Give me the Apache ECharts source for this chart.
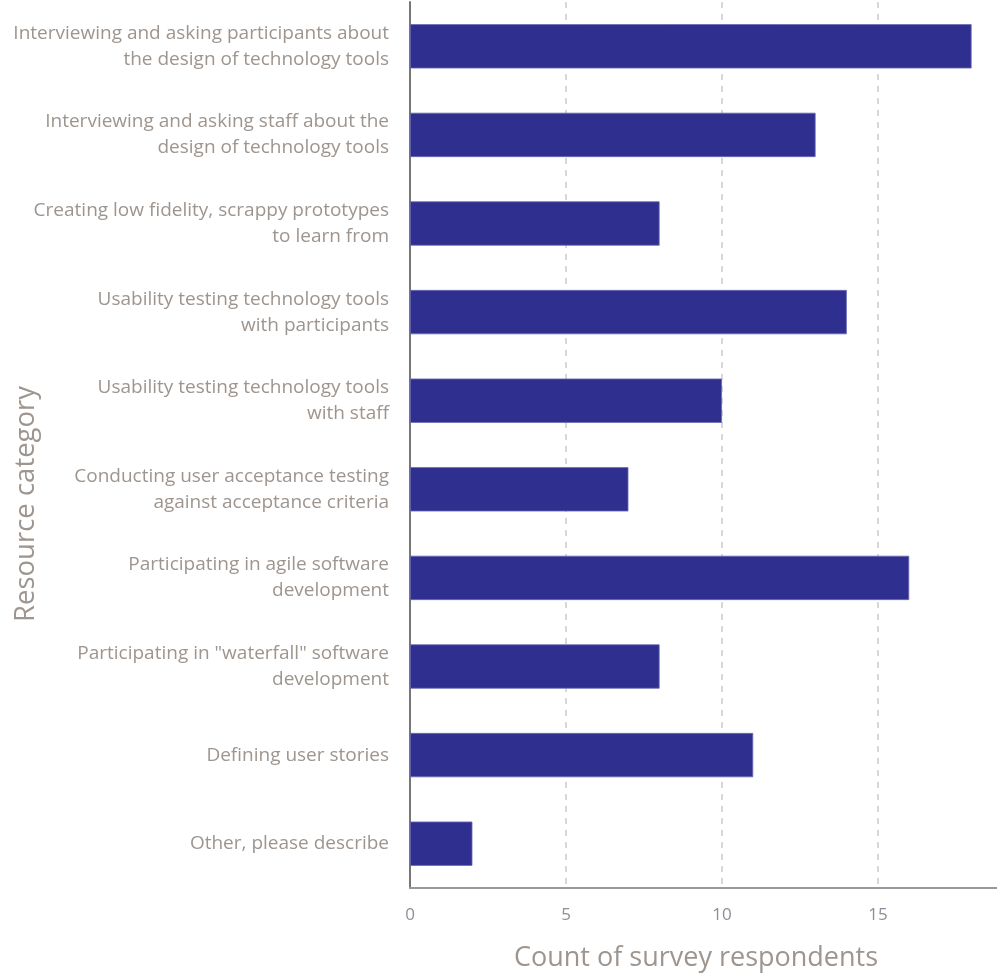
<!DOCTYPE html>
<html><head><meta charset="utf-8">
<script src="https://cdn.jsdelivr.net/npm/echarts@6/dist/echarts.min.js"></script>
<style>html,body{margin:0;padding:0;background:#fff;overflow:hidden}#c{width:997px;height:975px}</style>
</head><body><div id="c"></div>
<script>
const categories = [
  "Interviewing and asking participants about\nthe design of technology tools",
  "Interviewing and asking staff about the\ndesign of technology tools",
  "Creating low fidelity, scrappy prototypes\nto learn from",
  "Usability testing technology tools\nwith participants",
  "Usability testing technology tools\nwith staff",
  "Conducting user acceptance testing\nagainst acceptance criteria",
  "Participating in agile software\ndevelopment",
  "Participating in \"waterfall\" software\ndevelopment",
  "Defining user stories",
  "Other, please describe"
];
const counts = [18, 13, 8, 14, 10, 7, 16, 8, 11, 2];
const xTicks = [0, 5, 10, 15];

const font = "Open Sans";
const chart = echarts.init(document.getElementById('c'), null, {width: 997, height: 975});
chart.setOption({
  animation: false,
  grid: {left: 410, top: 2, width: 624, height: 886, containLabel: false, outerBoundsMode: 'none'},
  xAxis: {
    type: 'value', min: 0, max: 20, interval: 5,
    axisLine: {show: true, lineStyle: {color: '#999', width: 2}},
    axisTick: {show: false},
    axisLabel: {fontFamily: font, fontSize: 17, color: '#8a9099', margin: 19,
      formatter: v => xTicks.includes(v) ? String(v) : ''},
    splitLine: {show: true, lineStyle: {color: '#ccc', type: [6, 6], width: 1.5}}
  },
  yAxis: {
    type: 'category', data: categories, inverse: true,
    axisLine: {show: true, lineStyle: {color: '#777', width: 2}},
    axisTick: {show: false},
    axisLabel: {fontFamily: font, fontSize: 19, color: '#9e958e', margin: 21, lineHeight: 26, align: 'right', padding: [4, 0, 0, 0]},
    splitLine: {show: false}
  },
  graphic: [{
    type: 'text', rotation: Math.PI / 2, x: 12, y: 622,
    style: {text: 'Resource category', font: '27.5px "' + font + '"', fill: '#9e958e'}
  }, {
    type: 'text', x: 696, y: 958,
    style: {text: 'Count of survey respondents', font: '27px "' + font + '"', fill: '#9e958e', align: 'center', verticalAlign: 'middle'}
  }],
  series: [{
    type: 'bar', data: counts, barWidth: '50%',
    itemStyle: {color: '#2e2f8f', borderColor: '#6a6ab5', borderWidth: 0.8}
  }]
});
</script></body></html>
